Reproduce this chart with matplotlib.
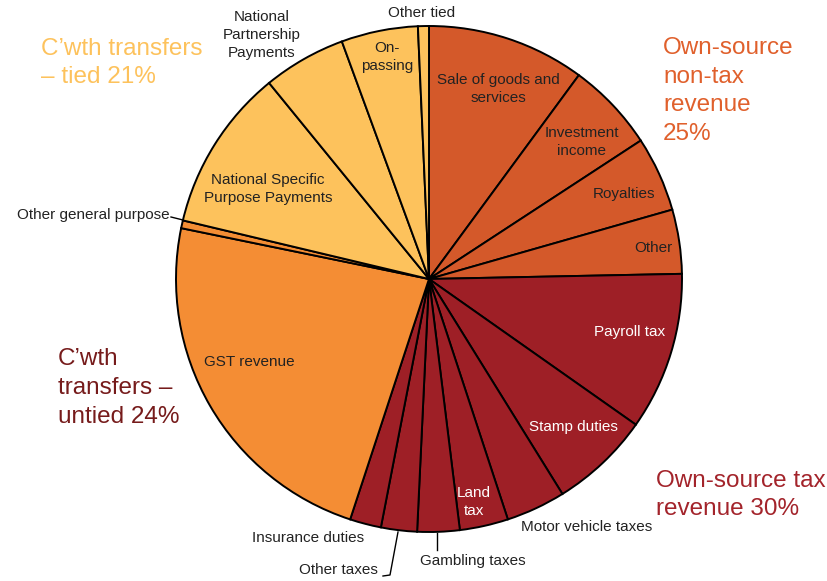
import matplotlib
matplotlib.use("Agg")
import matplotlib.pyplot as plt

plt.rcParams['font.family'] = ['Liberation Sans', 'DejaVu Sans']

# Shares of state revenue (%), clockwise from 12 o'clock
categories = ["Sale of goods and\nservices", "Investment\nincome", "Royalties", "Other",
              "Payroll tax", "Stamp duties", "Motor vehicle taxes", "Land\ntax",
              "Gambling taxes", "Other taxes", "Insurance duties",
              "GST revenue", "Other general purpose",
              "National Specific\nPurpose Payments", "National\nPartnership\nPayments",
              "On-\npassing", "Other tied"]
values = [10.1, 5.7, 4.8, 4.1,
          10.1, 6.4, 3.8, 3.1, 2.7, 2.3, 2.0,
          23.2, 0.5,
          10.4, 5.3, 4.9, 0.7]
groups = ["nontax"] * 4 + ["tax"] * 7 + ["untied"] * 2 + ["tied"] * 4

group_labels = {
    "tied": "C\u2019wth transfers\n\u2013 tied 21%",
    "nontax": "Own-source\nnon-tax\nrevenue\n25%",
    "untied": "C\u2019wth\ntransfers \u2013\nuntied 24%",
    "tax": "Own-source tax\nrevenue 30%",
}

fill = {"nontax": "#D4592A", "tax": "#9E1F26", "untied": "#F48D34", "tied": "#FDC25C"}
text_col = {"nontax": "#E0602C", "tax": "#A3242B", "untied": "#761B1B", "tied": "#FDC25C"}

W, H = 828, 581


def py(y):
    # pixel row -> data y
    return H - y


fig = plt.figure(figsize=(W / 100, H / 100), dpi=100)
ax = fig.add_axes([0, 0, 1, 1])

ax.pie(values, colors=[fill[g] for g in groups], startangle=90, counterclock=False,
       center=(429, py(279)), radius=253, frame=True,
       wedgeprops=dict(edgecolor='black', linewidth=1.4))
ax.set_xlim(0, W)
ax.set_ylim(0, H)
ax.set_aspect('equal')
ax.axis('off')

# slice label placement (pixel layout), colour
label_pos = {
    "Sale of goods and\nservices": (498, 89, '#222222'),
    "Investment\nincome": (582, 142, '#222222'),
    "Royalties": (624, 194, '#222222'),
    "Other": (653, 248, '#222222'),
    "Payroll tax": (630, 332, 'white'),
    "Stamp duties": (573, 427, 'white'),
    "Motor vehicle taxes": (587, 527, '#222222'),
    "Land\ntax": (474, 502, 'white'),
    "Gambling taxes": (473, 561, '#222222'),
    "Other taxes": (338, 570, '#222222'),
    "Insurance duties": (308, 538, '#222222'),
    "GST revenue": (249, 362, '#222222'),
    "Other general purpose": (93, 215, '#222222'),
    "National Specific\nPurpose Payments": (268, 189, '#222222'),
    "National\nPartnership\nPayments": (262, 35, '#222222'),
    "On-\npassing": (387, 57, '#222222'),
    "Other tied": (422, 13, '#222222'),
}
for name in categories:
    x, y, c = label_pos[name]
    ax.text(x, py(y), name, ha='center', va='center', fontsize=11, color=c,
            linespacing=1.38)

# leader lines
ax.plot([437, 437], [py(533), py(550)], color='black', lw=1)
ax.plot([398, 390, 383], [py(532), py(575), py(576)], color='black', lw=1)
ax.plot([171, 183], [py(217), py(220)], color='black', lw=1)

# group labels (left edge, vertical centre)
group_pos = {"tied": (41, 63), "nontax": (663, 91), "untied": (58, 388), "tax": (656, 495)}
for g, txt in group_labels.items():
    x, y = group_pos[g]
    ax.text(x, py(y), txt, ha='left', va='center', fontsize=17.5, color=text_col[g],
            linespacing=1.4)

fig.savefig("out.png", dpi=100)
